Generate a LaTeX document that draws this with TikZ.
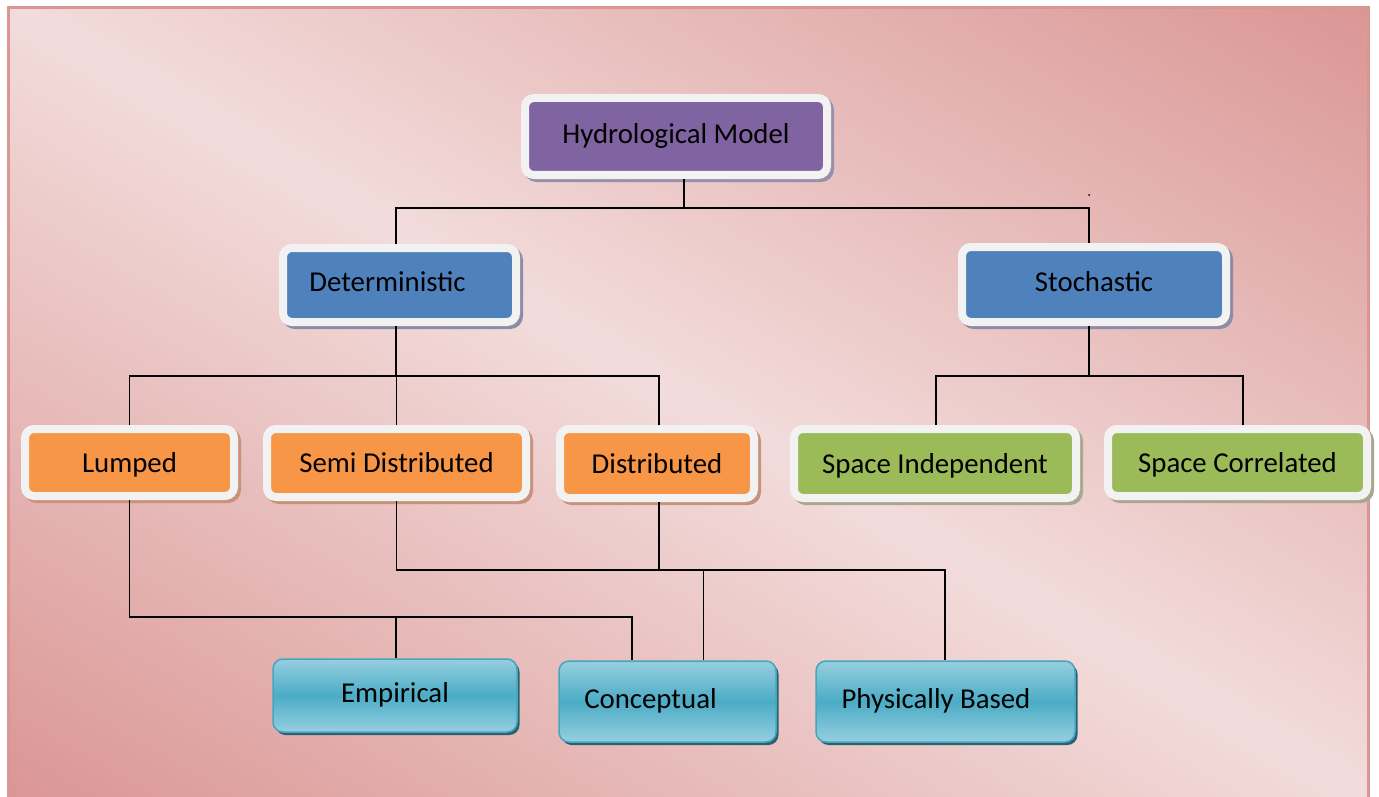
\documentclass[tikz,border=0pt]{standalone}
\usepackage{fontspec}
\setmainfont{Carlito}
\usetikzlibrary{shadows}
\definecolor{bgdark}{HTML}{DA9694}
\definecolor{bglight}{HTML}{F2DCDB}
\definecolor{framecol}{HTML}{F2F2F2}
\definecolor{cpurple}{HTML}{8064A2}
\definecolor{cblue}{HTML}{4F81BD}
\definecolor{corange}{HTML}{F79646}
\definecolor{cgreen}{HTML}{9BBB59}
\definecolor{shpurple}{HTML}{9A8FA8}
\definecolor{shblue}{HTML}{8E8BA6}
\definecolor{shorange}{HTML}{C8937A}
\definecolor{shgreen}{HTML}{A9A78F}
\definecolor{cyanmid}{HTML}{4BACC6}
\definecolor{cyanlight}{HTML}{96CFDF}
\definecolor{cyanedge}{HTML}{46A5C0}
\definecolor{cyanshadow}{HTML}{2A6272}
\begin{document}
\begin{tikzpicture}[x=1pt,y=-1pt,
  boxtext/.style={font=\fontsize{28.8}{34}\selectfont, text=black, inner sep=0pt,
    text height=21.6pt, text depth=8pt},
  tierbox/.style 2 args={boxtext, draw=framecol, line width=8pt, rounded corners=9pt,
    fill=#1, drop shadow={shadow xshift=3pt, shadow yshift=-3pt, opacity=1,
      draw=#2, fill=#2, line width=8pt}},
  lowtier/.style={text depth=2.6pt},
  leafbox/.style={boxtext, draw=cyanedge, line width=1.5pt, rounded corners=10pt,
    top color=cyanlight, bottom color=cyanlight, middle color=cyanmid,
    drop shadow={shadow xshift=2.5pt, shadow yshift=-3pt, opacity=1, fill=cyanshadow}},
  conn/.style={draw=black, line width=1.8pt}]
\useasboundingbox (0,0) rectangle (1379,797);
% background
\begin{scope}
  \clip (8.7,7.3) rectangle (1368.5,820);
  \begin{scope}[transform canvas={rotate around={-30.17:(688.5,401.5)}}]
    \shade[bottom color=bgdark, top color=bgdark, middle color=bglight]
      (-111.5,-282.5) rectangle (1488.5,1085.5);
  \end{scope}
\end{scope}
\draw[bgdark, line width=2.5pt] (8.7,7.3) rectangle (1368.5,820);

% nodes
\node[tierbox={cpurple}{shpurple}, minimum width=302pt, minimum height=77pt] (hydro) at (676,136.5) {Hydrological Model};
\node[tierbox={cblue}{shblue}, minimum width=233pt, minimum height=74pt] (det) at (399.5,285) {\kern-24pt Deterministic};
\node[tierbox={cblue}{shblue}, minimum width=264pt, minimum height=75pt] (sto) at (1094,284.5) {Stochastic};
\node[tierbox={corange}{shorange}, lowtier, minimum width=209pt, minimum height=67pt] (lum) at (129.5,462.5) {Lumped};
\node[tierbox={corange}{shorange}, lowtier, minimum width=259pt, minimum height=68pt] (semi) at (396.5,463) {Semi Distributed};
\node[tierbox={corange}{shorange}, lowtier, minimum width=194pt, minimum height=69pt] (dis) at (657,463.5) {Distributed};
\node[tierbox={cgreen}{shgreen}, lowtier, minimum width=282pt, minimum height=69pt] (spi) at (935,463.5) {Space Independent};
\node[tierbox={cgreen}{shgreen}, lowtier, minimum width=259pt, minimum height=67pt] (spc) at (1237.5,462.5) {Space Correlated};
\node[leafbox, minimum width=244pt, minimum height=73pt] (emp) at (395,695.5) {Empirical};
\node[leafbox, minimum width=217pt, minimum height=81pt] (con) at (667.5,701.5) {\kern-34pt Conceptual};
\node[leafbox, minimum width=259pt, minimum height=81pt] (phy) at (945.5,701.5) {\kern-19pt Physically Based};

% bus coordinates
\coordinate (busA) at (684,208);
\coordinate (busB) at (396,376);
\coordinate (busC) at (1089,376);
\coordinate (busD) at (632,617);
\coordinate (busE) at (945,570);

% connectors
\draw[conn] ([xshift=8pt]hydro.south) -- (busA);
\draw[conn] ([xshift=-3.5pt]det.north) |- (busA);
\draw[conn] ([xshift=-5pt]sto.north) |- (busA);
\fill (1089,195) circle (1pt);

\draw[conn] ([xshift=-3.5pt]det.south) -- (busB);
\draw[conn] (lum.north) |- (busB);
\draw[conn] (semi.north) -- (semi.north |- busB);
\draw[conn] ([xshift=2pt]dis.north) |- (busB);

\draw[conn] ([xshift=-5pt]sto.south) -- (busC);
\draw[conn] ([xshift=1pt]spi.north) |- (busC);
\draw[conn] ([xshift=5.5pt]spc.north) |- (busC);

\draw[conn] (lum.south) -- (lum.south |- busD) -| ([xshift=-35.5pt]con.north);
\draw[conn] ([xshift=1pt]emp.north) -- ([xshift=1pt]emp.north |- busD);

\draw[conn] (semi.south) |- (busE) -- (phy.north -| busE);
\draw[conn] ([xshift=2pt]dis.south) -- ([xshift=2pt]dis.south |- busE);
\draw[conn] ([xshift=36pt]con.north) -- ([xshift=36pt]con.north |- busE);
\end{tikzpicture}
\end{document}
